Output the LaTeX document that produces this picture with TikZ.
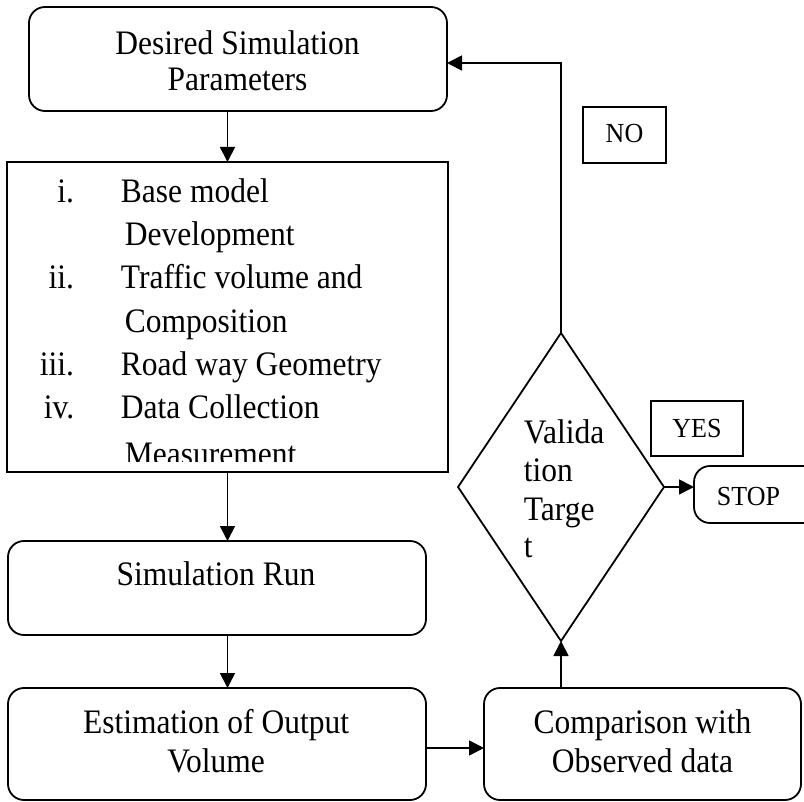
\documentclass[tikz,border=0pt]{standalone}
\usepackage{fontspec}
\setmainfont{Liberation Serif}
\usetikzlibrary{arrows.meta,shapes.geometric}
\begin{document}
\begin{tikzpicture}[x=1pt,y=-1pt,line width=1.8pt,
  box/.style={draw, rectangle, inner sep=0pt, outer sep=0pt},
  rbox/.style={box, rounded corners=16pt},
  txt/.style={inner sep=0pt, anchor=base, yscale=1.09, font=\fontsize{31.5}{38}\selectfont},
  ltxt/.style={txt, anchor=base west},
  ntxt/.style={txt, anchor=base east},
  stxt/.style={inner sep=0pt, anchor=base, yscale=1.06, font=\fontsize{26}{30}\selectfont},
  arr/.style={-{Triangle[length=15pt,width=15pt]}}]
\useasboundingbox (0,0) rectangle (804,802);
\clip (0,0) rectangle (804,802);

% boxes
\node[rbox, minimum width=418pt, minimum height=104pt] (top) at (238,59) {};
\node[box, minimum width=441pt, minimum height=310pt] (list) at (227.5,317) {};
\node[rbox, minimum width=418pt, minimum height=94pt] (sim) at (217,588) {};
\node[rbox, minimum width=418pt, minimum height=112pt] (est) at (217,744) {};
\node[rbox, minimum width=317pt, minimum height=112pt] (comp) at (642.5,744) {};
\node[draw, diamond, inner sep=0pt, outer sep=0pt, minimum width=206pt, minimum height=308pt] (diam) at (561,487) {};
\node[rbox, minimum width=156pt, minimum height=57pt] (stop) at (772,494.5) {};
\node[box, minimum width=83pt, minimum height=56pt] (nobox) at (624.5,135) {};
\node[box, minimum width=92pt, minimum height=55pt] (yesbox) at (697,428.5) {};

% texts
\node[txt] (ta) at (237.5,55) {Desired Simulation};
\node[txt] (tb) at (237.5,91) {Parameters};

\node[ntxt] (n1) at (75,202.5) {i.};
\node[ltxt] (l1) at (120,202.5) {Base model};
\node[ltxt] (l1b) at (124,246) {Development};
\node[ntxt] (n2) at (75,289) {ii.};
\node[ltxt] (l2) at (120,289) {Traffic volume and};
\node[ltxt] (l2b) at (124,333) {Composition};
\node[ntxt] (n3) at (75,376) {iii.};
\node[ltxt] (l3) at (120,376) {Road way Geometry};
\node[ntxt] (n4) at (75,419) {iv.};
\node[ltxt] (l4) at (120,419) {Data Collection};
\begin{scope}
\clip (0,0) rectangle (804,461.5);
\node[ltxt] (l4b) at (124,465) {Measurement};
\end{scope}

\node[txt] (ts) at (216,585) {Simulation Run};
\node[txt] (te1) at (216,733) {Estimation of Output};
\node[txt] (te2) at (216,772) {Volume};
\node[txt] (tc1) at (642.5,733) {Comparison with};
\node[txt] (tc2) at (642.5,772) {Observed data};

\node[ltxt] (d1) at (523,444) {Valida};
\node[ltxt] (d2) at (523,482) {tion};
\node[ltxt] (d3) at (523,520) {Targe};
\node[ltxt] (d4) at (523,557) {t};

\node[stxt] (tno) at (624.5,143) {NO};
\node[stxt] (tyes) at (697,438) {YES};
\node[stxt, anchor=base west] (tstop) at (716,505) {STOP};

% connectors
\coordinate (nocorner) at (561,63);
\draw[arr] (list.north |- top.south) -- (list.north);
\draw[arr] (list.south) -- (list.south |- sim.north);
\draw[arr] (list.south |- sim.south) -- (list.south |- est.north);
\draw[arr] ([yshift=-4pt]est.east) -- ([yshift=-4pt]est.east -| comp.west);
\draw[arr] (diam.south |- comp.north) -- (diam.south);
\draw[arr] (diam.north) -- (nocorner) -- (nocorner -| top.east);
\draw[arr] (diam.east) -- (diam.east -| stop.west);
\end{tikzpicture}
\end{document}
